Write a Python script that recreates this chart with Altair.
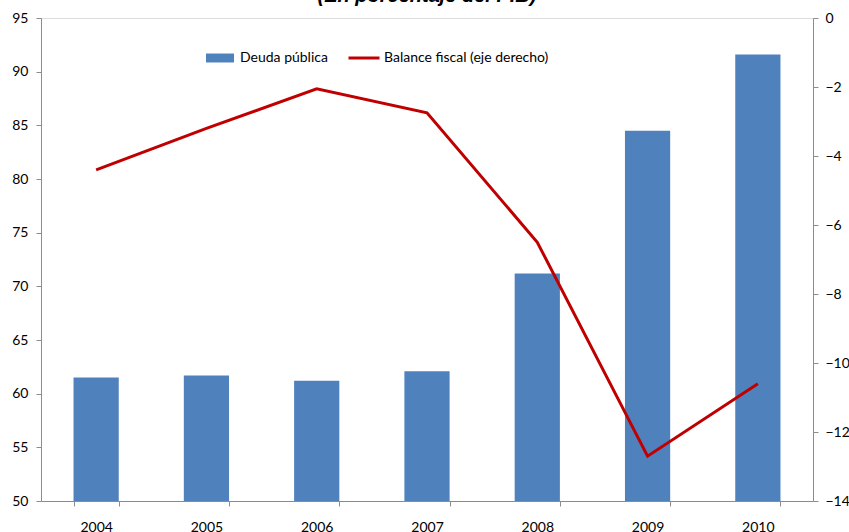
import altair as alt
import pandas as pd

years = ["2004", "2005", "2006", "2007", "2008", "2009", "2010"]
deuda = [61.5, 61.7, 61.2, 62.1, 71.2, 84.5, 91.6]
balance = [-4.4, -3.2, -2.05, -2.75, -6.5, -12.7, -10.6]
left_ticks = [50, 55, 60, 65, 70, 75, 80, 85, 90, 95]
right_ticks = [-14, -12, -10, -8, -6, -4, -2, 0]

df = pd.DataFrame({
    "year": years,
    "deuda": deuda,
    "balance": balance,
    "s1": ["Deuda pública"] * len(years),
    "s2": ["Balance fiscal (eje derecho)"] * len(years),
})

FONT = "Lato"
FS = 14
AX = "#8c8c8c"

x = alt.X(
    "year:N",
    title=None,
    scale=alt.Scale(paddingInner=0.59, paddingOuter=0.295),
    axis=alt.Axis(labelAngle=0, tickBand="extent", domainColor=AX, tickColor=AX,
                  tickSize=5, labelPadding=14, labelFont=FONT, labelFontSize=FS,
                  labelColor="#000000", grid=False),
)

bars = alt.Chart(df).mark_bar(clip=True).encode(
    x=x,
    y=alt.Y("deuda:Q", title=None,
            scale=alt.Scale(domain=[50, 95], nice=False, zero=False),
            axis=alt.Axis(values=left_ticks, orient="left", domainColor=AX, tickColor=AX,
                          tickSize=5, labelPadding=8, labelFont=FONT, labelFontSize=FS,
                          labelColor="#000000", grid=False)),
    fill=alt.Fill("s1:N", title=None, scale=alt.Scale(range=["#4F81BD"]),
                  legend=alt.Legend(orient="none", legendX=165, legendY=26,
                                    symbolType="M-1,-0.32H1V0.32H-1Z", symbolSize=784,
                                    symbolStrokeWidth=0, labelFont=FONT, labelFontSize=FS,
                                    labelColor="#000000", labelOffset=6, labelLimit=0)),
)

line = alt.Chart(df).mark_line(strokeWidth=3).encode(
    x=x,
    y=alt.Y("balance:Q", title=None,
            scale=alt.Scale(domain=[-14, 0], nice=False, zero=False),
            axis=alt.Axis(values=right_ticks, orient="right", domainColor=AX, tickColor=AX,
                          tickSize=5, labelPadding=7, labelFont=FONT, labelFontSize=FS,
                          labelColor="#000000", grid=False)),
    stroke=alt.Stroke("s2:N", title=None, scale=alt.Scale(range=["#C00000"]),
                      legend=alt.Legend(orient="none", legendX=306, legendY=23,
                                        symbolType="stroke", symbolSize=961,
                                        symbolStrokeWidth=3, labelFont=FONT, labelFontSize=FS,
                                        labelColor="#000000", labelOffset=3, labelLimit=0)),
)

chart = alt.layer(bars, line).resolve_scale(y="independent", fill="independent", stroke="independent").properties(
    width=772,
    height=483,
    autosize="none",
    padding={"left": 41, "top": 18, "right": 36, "bottom": 31},
    title=alt.TitleParams("(En porcentaje del PIB)", font="Liberation Sans", fontSize=20,
                          fontWeight="bold", fontStyle="italic", anchor="middle",
                          baseline="alphabetic", offset=-11, color="#000000"),
).configure_view(stroke=None).configure(background="white")

chart.save("out.html", embed_options={"renderer": "svg", "actions": False})
